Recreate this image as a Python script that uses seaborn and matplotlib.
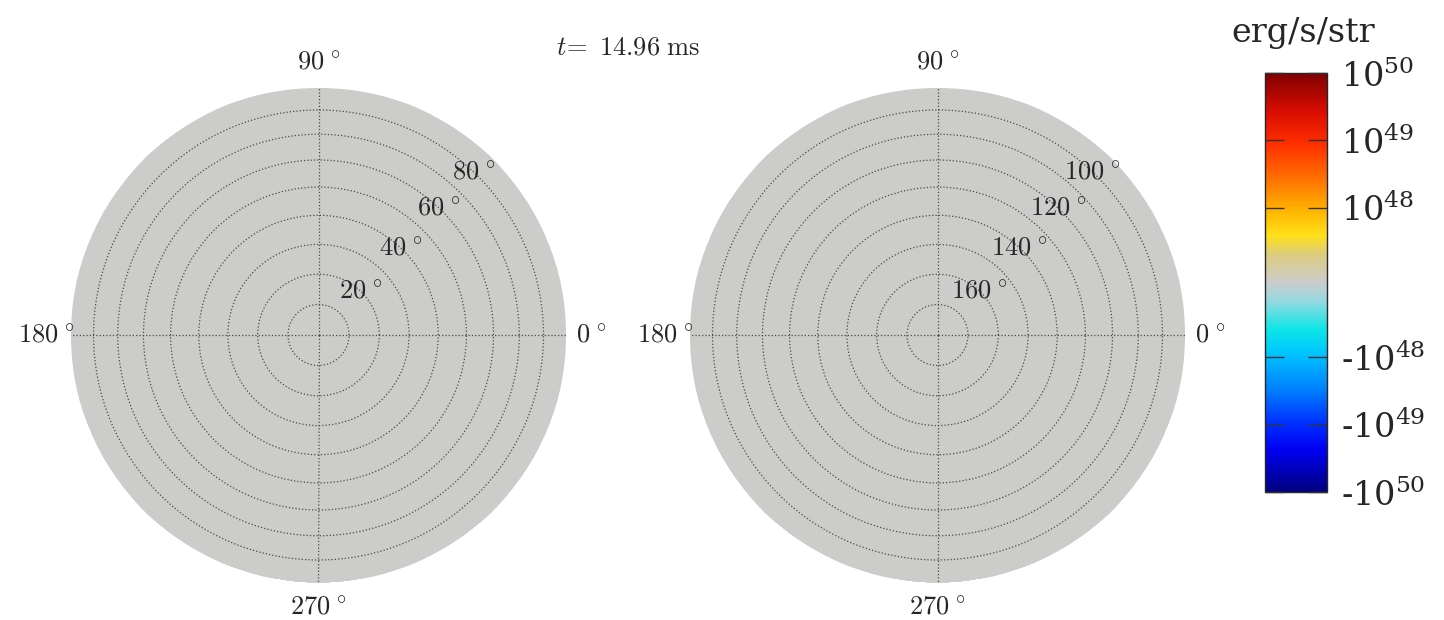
import numpy as np
import matplotlib
matplotlib.use("Agg")
import matplotlib.pyplot as plt
from matplotlib.colors import LinearSegmentedColormap, SymLogNorm
import seaborn as sns

# ---- data -------------------------------------------------------------
time_ms = 14.96
# colatitude grid (deg) of the emission map and azimuth grid (deg)
colat_edges = np.arange(0, 181, 2)
phi_edges = np.arange(0, 361, 3)
# angular luminosity dL/dOmega (erg/s/str): no emission at this time
flux = np.zeros((len(colat_edges) - 1, len(phi_edges) - 1))

north_ticks = [20, 40, 60, 80]
south_ticks = [100, 120, 140, 160]
circle_step = 10
theta_ticks = [0, 90, 180, 270]
cbar_ticks = [-1e50, -1e49, -1e48, 1e48, 1e49, 1e50]
cbar_labels = ["-$10^{50}$", "-$10^{49}$", "-$10^{48}$",
               "$10^{48}$", "$10^{49}$", "$10^{50}$"]

# ---- style ------------------------------------------------------------
sns.set_theme(style="white")
plt.rcParams["mathtext.fontset"] = "cm"
plt.rcParams["font.family"] = ["DejaVu Serif"]
plt.rcParams["axes.axisbelow"] = False

cmap_points = [
    (0.000, (0.00, 0.00, 0.50)),
    (0.100, (0.00, 0.00, 0.95)),
    (0.167, (0.00, 0.20, 1.00)),
    (0.243, (0.00, 0.50, 1.00)),
    (0.334, (0.00, 0.78, 1.00)),
    (0.387, (0.05, 0.90, 0.90)),
    (0.458, (0.60, 0.85, 0.88)),
    (0.500, (0.80, 0.80, 0.80)),
    (0.566, (0.86, 0.80, 0.50)),
    (0.613, (1.00, 0.88, 0.10)),
    (0.668, (1.00, 0.72, 0.00)),
    (0.745, (1.00, 0.45, 0.00)),
    (0.833, (1.00, 0.18, 0.00)),
    (0.910, (0.85, 0.05, 0.00)),
    (1.000, (0.50, 0.00, 0.00)),
]
cmap = LinearSegmentedColormap.from_list("lum", cmap_points)
norm = SymLogNorm(linthresh=1e48, linscale=1.0, vmin=-1e50, vmax=1e50, base=10)


def radius(colat_deg):
    """Lambert equal-area radius, 1 at the equator."""
    c = np.radians(np.asarray(colat_deg, dtype=float))
    return np.sin(c / 2) / np.sin(np.pi / 4)


def deg_label(v):
    return r"$%d^{\,\circ}$" % v


fig = plt.figure(figsize=(14.44, 6.2), dpi=100)
W, H = 1444, 620
ax_n = fig.add_axes([71 / W, 37 / H, 495 / W, 496 / H], projection="polar")
ax_s = fig.add_axes([690 / W, 37 / H, 495 / W, 496 / H], projection="polar")
cax = fig.add_axes([1265 / W, 128 / H, 62 / W, 419 / H])

phi = np.radians(phi_edges)
half = len(colat_edges) // 2
hemis = [
    (ax_n, colat_edges[: half + 1], flux[:half], north_ticks, False),
    (ax_s, colat_edges[half:], flux[half:], south_ticks, True),
]
label_angle = np.radians(46.5)

mesh = None
for ax, edges, vals, ticks, south in hemis:
    dist = 180 - edges if south else edges
    P, R = np.meshgrid(phi, radius(dist))
    mesh = ax.pcolormesh(P, R, vals, cmap=cmap, norm=norm, shading="flat",
                         zorder=0)
    ax.set_ylim(0, 1)
    ax.spines["polar"].set_visible(False)
    ax.set_axisbelow(False)

    # equal-area circles every 10 degrees, labelled on the diagonal
    circles = np.arange(circle_step, 90, circle_step)
    ax.set_yticks(radius(circles))
    ax.set_yticklabels([])
    for t in ticks:
        r = radius(180 - t if south else t)
        ax.text(label_angle, r, deg_label(t), ha="center", va="center",
                fontsize=19, zorder=3)

    ax.set_xticks(np.radians(theta_ticks))
    ax.set_xticklabels([deg_label(t) for t in theta_ticks], fontsize=19)
    ax.tick_params(axis="x", pad=5)
    ax.grid(True, color="#4a4a4a", linestyle=":", linewidth=0.9)

fig.text(628 / W, 1 - 47 / H, r"$t\!=\ %.2f\ \mathrm{ms}$" % time_ms,
         ha="center", va="center", fontsize=19)

cb = fig.colorbar(mesh, cax=cax)
cb.set_ticks(cbar_ticks)
cb.set_ticklabels(cbar_labels)
cb.minorticks_off()
cb.outline.set_linewidth(1.0)
cax.set_axisbelow(False)
cax.tick_params(axis="y", which="major", direction="in", length=14,
                width=1.0, color="#333333", left=True, right=True,
                labelsize=24, pad=10)
for lab in cax.get_yticklabels():
    lab.set_fontfamily("DejaVu Serif")
    lab.set_math_fontfamily("dejavuserif")
fig.text(1303 / W, 1 - 33 / H, "erg/s/str", ha="center", va="center",
         fontsize=24, family="DejaVu Serif")

fig.savefig("out.png", dpi=100)
